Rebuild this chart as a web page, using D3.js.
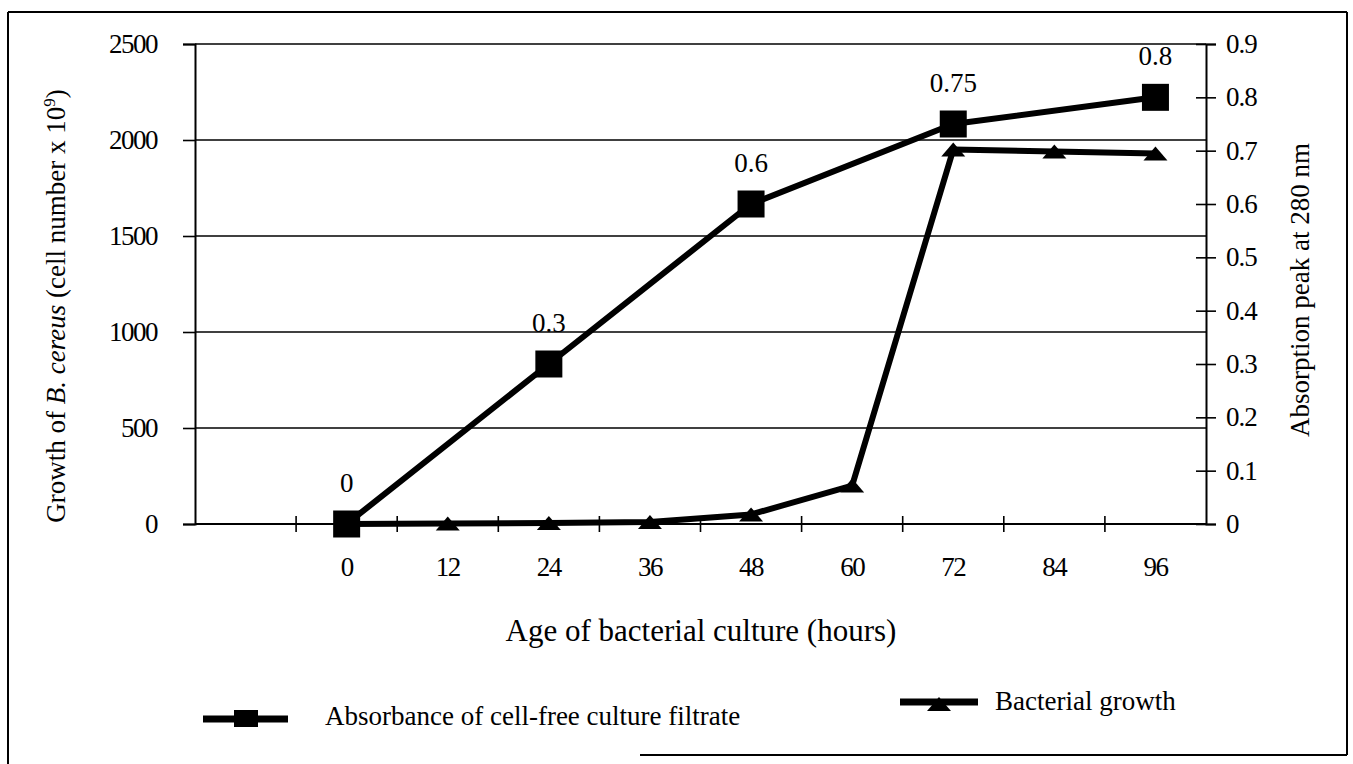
<!DOCTYPE html>
<html>
<head>
<meta charset="utf-8">
<script src="https://d3js.org/d3.v7.min.js"></script>
<style>
  body { margin: 0; background: #fff; }
  text { font-family: "Liberation Serif", "Times New Roman", serif; fill: #000; }
</style>
</head>
<body>
<div id="chart"></div>
<script>
// data
var hours = [0, 12, 24, 36, 48, 60, 72, 84, 96];
var growth = [0, 3, 5, 10, 50, 200, 1950, 1940, 1930];
var absHours = [0, 24, 48, 72, 96];
var absorbance = [0, 0.3, 0.6, 0.75, 0.8];
var absLabels = ["0", "0.3", "0.6", "0.75", "0.8"];
var leftTicks = [0, 500, 1000, 1500, 2000, 2500];
var rightTicks = [0, 0.1, 0.2, 0.3, 0.4, 0.5, 0.6, 0.7, 0.8, 0.9];
var seriesNames = ["Absorbance of cell-free culture filtrate", "Bacterial growth"];

var width = 1353,
	height = 764;

var svg = d3.select("#chart")
	.append("svg")
	.attr("width", width)
	.attr("height", height);

// outer frame
var frame = svg.append("g").attr("stroke", "#000").attr("stroke-width", 2);
frame.append("line").attr("x1", 8).attr("y1", 12).attr("x2", 1347).attr("y2", 12);
frame.append("line").attr("x1", 8).attr("y1", 12).attr("x2", 8).attr("y2", 764);
frame.append("line").attr("x1", 1347).attr("y1", 12).attr("x2", 1347).attr("y2", 755);
frame.append("line").attr("x1", 640).attr("y1", 755).attr("x2", 1347).attr("y2", 755);

var plotLeft = 195, plotRight = 1206, plotTop = 44, plotBottom = 524;

// one empty category before 0, category centres 12 h apart
var x = d3.scaleLinear().domain([-18, 102]).range([plotLeft, plotRight]);
var yL = d3.scaleLinear().domain([0, 2500]).range([plotBottom, plotTop]);
var yR = d3.scaleLinear().domain([0, 0.9]).range([plotBottom, plotTop]);

// gridlines
svg.append("g")
	.selectAll("line")
	.data(leftTicks.slice(1))
	.enter().append("line")
	.attr("x1", plotLeft).attr("x2", plotRight)
	.attr("y1", function(d) { return yL(d); })
	.attr("y2", function(d) { return yL(d); })
	.attr("stroke", "#000")
	.attr("stroke-width", 1.6);

// left axis
var axL = svg.append("g").attr("transform", "translate(" + plotLeft + ",0)")
	.call(d3.axisLeft(yL).tickValues(leftTicks).tickSize(12).tickPadding(26).tickFormat(d3.format("d")));
axL.select(".domain").attr("stroke-width", 2);
axL.selectAll(".tick line").attr("stroke-width", 1.6);
axL.selectAll("text").style("font-size", "27px").style("letter-spacing", "-1.5px");

// right axis, ticks cross the line
var axR = svg.append("g").attr("transform", "translate(" + plotRight + ",0)")
	.call(d3.axisRight(yR).tickValues(rightTicks).tickSize(10).tickPadding(10).tickFormat(function(d) { return d3.format(".1~f")(d); }));
axR.select(".domain").attr("stroke-width", 2);
axR.selectAll(".tick line").attr("x1", -10).attr("stroke-width", 1.6);
axR.selectAll("text").style("font-size", "27px").style("letter-spacing", "-1px");

// bottom axis: tick marks between categories, labels at centres
var tickMarks = d3.range(-6, 102, 12);
var axB = svg.append("g").attr("transform", "translate(0," + plotBottom + ")");
axB.append("line").attr("x1", plotLeft).attr("x2", plotRight).attr("y1", 0).attr("y2", 0)
	.attr("stroke", "#000").attr("stroke-width", 2);
axB.selectAll("line.tk")
	.data(tickMarks)
	.enter().append("line")
	.attr("class", "tk")
	.attr("x1", function(d) { return x(d); })
	.attr("x2", function(d) { return x(d); })
	.attr("y1", -8).attr("y2", 8)
	.attr("stroke", "#000").attr("stroke-width", 1.6);
axB.selectAll("text")
	.data(hours)
	.enter().append("text")
	.attr("x", function(d) { return x(d); })
	.attr("y", 52)
	.attr("text-anchor", "middle")
	.style("font-size", "27px")
	.style("letter-spacing", "-1.5px")
	.text(function(d) { return d; });

// axis titles
svg.append("text")
	.attr("x", 701).attr("y", 641)
	.attr("text-anchor", "middle")
	.style("font-size", "31px")
	.text("Age of bacterial culture (hours)");

var tl = svg.append("text")
	.attr("transform", "translate(65,306) rotate(-90)")
	.attr("text-anchor", "middle")
	.style("font-size", "27px");
tl.append("tspan").text("Growth of ");
tl.append("tspan").style("font-style", "italic").text("B. cereus");
tl.append("tspan").text(" (cell number x 10");
tl.append("tspan").attr("dy", -10).style("font-size", "17px").text("9");
tl.append("tspan").attr("dy", 10).text(")");

svg.append("text")
	.attr("transform", "translate(1309,290) rotate(-90)")
	.attr("text-anchor", "middle")
	.style("font-size", "27px")
	.text("Absorption peak at 280 nm");

// series
var triPath = "M-12,7L0,-7L12,7Z";

var growthLine = d3.line()
	.x(function(d, i) { return x(hours[i]); })
	.y(function(d) { return yL(d); });

svg.append("path")
	.datum(growth)
	.attr("d", growthLine)
	.attr("fill", "none")
	.attr("stroke", "#000")
	.attr("stroke-width", 6)
	.attr("stroke-linejoin", "round");

svg.append("g")
	.selectAll("path")
	.data(growth)
	.enter().append("path")
	.attr("d", triPath)
	.attr("transform", function(d, i) { return "translate(" + x(hours[i]) + "," + yL(d) + ")"; })
	.attr("fill", "#000");

var absLine = d3.line()
	.x(function(d, i) { return x(absHours[i]); })
	.y(function(d) { return yR(d); });

svg.append("path")
	.datum(absorbance)
	.attr("d", absLine)
	.attr("fill", "none")
	.attr("stroke", "#000")
	.attr("stroke-width", 6)
	.attr("stroke-linejoin", "round");

svg.append("g")
	.selectAll("path")
	.data(absorbance)
	.enter().append("path")
	.attr("d", d3.symbol().type(d3.symbolSquare).size(27 * 27))
	.attr("transform", function(d, i) { return "translate(" + x(absHours[i]) + "," + yR(d) + ")"; })
	.attr("fill", "#000");

// value labels above squares
svg.append("g")
	.selectAll("text")
	.data(absorbance)
	.enter().append("text")
	.attr("x", function(d, i) { return x(absHours[i]); })
	.attr("y", function(d) { return yR(d) - 32; })
	.attr("text-anchor", "middle")
	.style("font-size", "27px")
	.text(function(d, i) { return absLabels[i]; });

// legend
var lg1 = svg.append("g").attr("transform", "translate(203,719)");
lg1.append("line").attr("x1", 0).attr("x2", 85).attr("stroke", "#000").attr("stroke-width", 7);
lg1.append("rect").attr("x", 31).attr("y", -9).attr("width", 24).attr("height", 17).attr("fill", "#000");
lg1.append("text").attr("x", 122).attr("y", 6).style("font-size", "27px").text(seriesNames[0]);

var lg2 = svg.append("g").attr("transform", "translate(900,702)");
lg2.append("line").attr("x1", 0).attr("x2", 78).attr("stroke", "#000").attr("stroke-width", 7);
lg2.append("path").attr("d", triPath).attr("transform", "translate(39,2)").attr("fill", "#000");
lg2.append("text").attr("x", 95).attr("y", 8).style("font-size", "27px").text(seriesNames[1]);
</script>
</body>
</html>
